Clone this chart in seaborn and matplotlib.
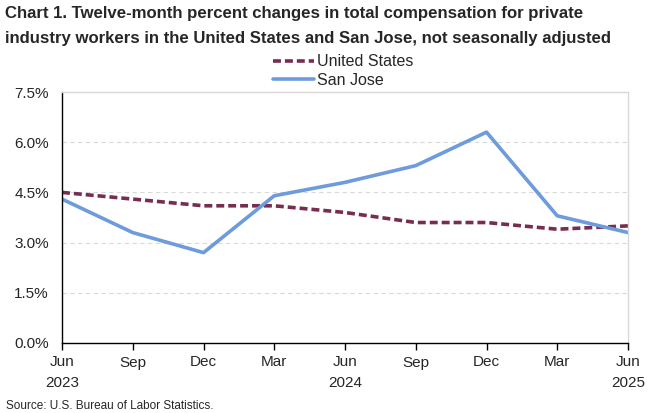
import pandas as pd
import matplotlib.pyplot as plt
import seaborn as sns
from matplotlib.ticker import FuncFormatter, MultipleLocator

# Dados
periods = ['Jun\n2023', 'Sep', 'Dec', 'Mar', 'Jun\n2024', 'Sep', 'Dec', 'Mar', 'Jun\n2025']
united_states = [4.5, 4.3, 4.1, 4.1, 3.9, 3.6, 3.6, 3.4, 3.5]
san_jose = [4.3, 3.3, 2.7, 4.4, 4.8, 5.3, 6.3, 3.8, 3.3]

title = ('Chart 1. Twelve-month percent changes in total compensation for private\n'
         'industry workers in the United States and San Jose, not seasonally adjusted')
source = 'Source: U.S. Bureau of Labor Statistics.'


def plot_chart():
    sns.set_style('white')
    plt.rcParams['font.family'] = ['Liberation Sans', 'DejaVu Sans']

    df = pd.DataFrame({
        'pos': list(range(len(periods))) * 2,
        'value': united_states + san_jose,
        'series': ['United States'] * len(periods) + ['San Jose'] * len(periods),
    })

    fig = plt.figure(figsize=(6.68, 4.13), dpi=100)
    ax = fig.add_axes([62 / 668, 1 - 343 / 413, (628 - 62) / 668, (343 - 92) / 413])

    sns.lineplot(data=df, x='pos', y='value', hue='series', style='series',
                 palette={'United States': '#772d4f', 'San Jose': '#6d9bdc'},
                 dashes={'United States': (2.2, 1.1), 'San Jose': ''},
                 linewidth=2.6, ax=ax, legend=False)

    ax.set_xlim(0, len(periods) - 1)
    ax.set_ylim(0, 7.5)
    ax.yaxis.set_major_locator(MultipleLocator(1.5))
    ax.yaxis.set_major_formatter(FuncFormatter(lambda v, _: f'{v:.1f}%'))
    ax.set_xticks(range(len(periods)))
    ax.set_xticklabels(periods, linespacing=1.6)
    ax.set_xlabel('')
    ax.set_ylabel('')

    ax.grid(axis='y', color='#d9d9d9', linestyle=(0, (4, 3)), linewidth=0.8)
    ax.set_axisbelow(True)
    for side in ['top', 'right']:
        ax.spines[side].set_color('#d9d9d9')
        ax.spines[side].set_linewidth(1.0)
    for side in ['left', 'bottom']:
        ax.spines[side].set_color('black')
        ax.spines[side].set_linewidth(1.0)

    ax.tick_params(axis='x', bottom=True, length=5, width=1, color='black',
                   labelsize=11, pad=4)
    ax.tick_params(axis='y', left=False, labelsize=11, pad=6)

    # Legenda manual (ordem: United States, San Jose)
    handles = [
        plt.Line2D([], [], color='#772d4f', linewidth=2.6, dashes=(2.2, 1.1)),
        plt.Line2D([], [], color='#6d9bdc', linewidth=2.6),
    ]
    fig.legend(handles, ['United States', 'San Jose'], loc='center',
               bbox_to_anchor=(343 / 668, 1 - 71 / 413), frameon=False,
               fontsize=11.5, handlelength=2.6, handletextpad=0.15,
               labelspacing=0.2, borderpad=0)

    fig.text(5 / 668, 1 - 6 / 413, title, ha='left', va='top',
             fontsize=12.1, fontweight='bold', linespacing=1.8)
    fig.text(6 / 668, 1 - 406 / 413, source, ha='left', va='center', fontsize=8.5)

    fig.savefig('out.png', dpi=100)


if __name__ == '__main__':
    plot_chart()
